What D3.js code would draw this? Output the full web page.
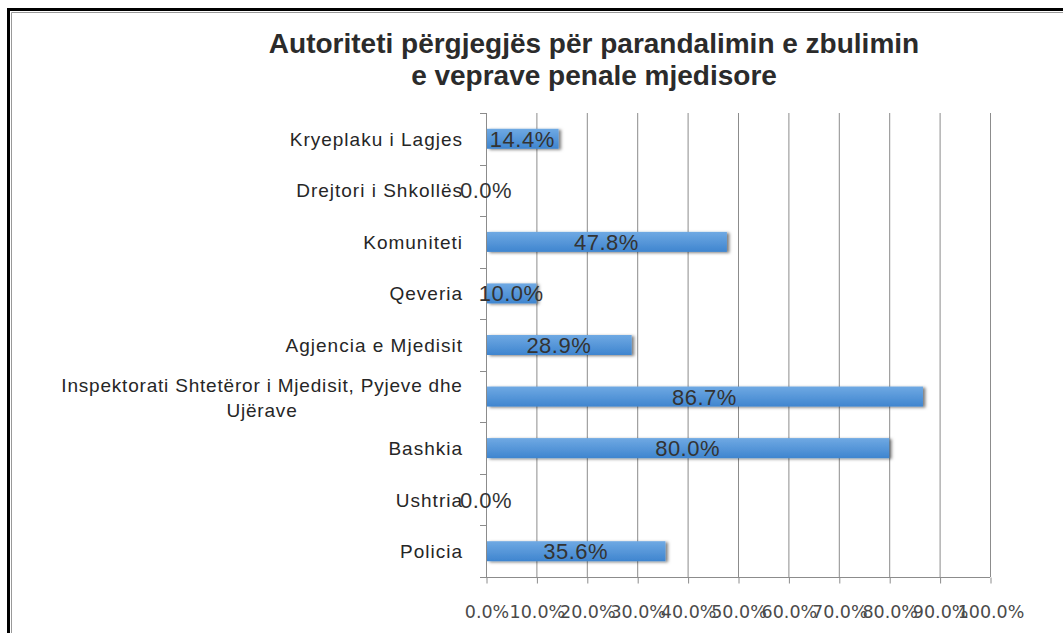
<!DOCTYPE html>
<html>
<head>
<meta charset="utf-8">
<script src="https://cdn.jsdelivr.net/npm/d3@7"></script>
<style>
  body { margin: 0; background: #fff; }
  svg { display: block; }
</style>
</head>
<body>
<script>
// data
const categories = ["Kryeplaku i Lagjes", "Drejtori i Shkollës", "Komuniteti", "Qeveria", "Agjencia e Mjedisit",
  "Inspektorati Shtetëror i Mjedisit, Pyjeve dhe Ujërave", "Bashkia", "Ushtria", "Policia"];
const values = [14.4, 0.0, 47.8, 10.0, 28.9, 86.7, 80.0, 0.0, 35.6];
const tickValues = [0, 10, 20, 30, 40, 50, 60, 70, 80, 90, 100];
const titleLines = ["Autoriteti përgjegjës për parandalimin e zbulimin", "e veprave penale mjedisore"];

const W = 1063, H = 633;
const plotL = 486, plotR = 990, plotT = 113, plotB = 577;

const svg = d3.select("body").append("svg").attr("width", W).attr("height", H);

const defs = svg.append("defs");
const grad = defs.append("linearGradient").attr("id", "barGrad").attr("x1", 0).attr("y1", 0).attr("x2", 0).attr("y2", 1);
grad.append("stop").attr("offset", "0%").attr("stop-color", "#6fa9e3");
grad.append("stop").attr("offset", "100%").attr("stop-color", "#3f85cf");
const shadow = defs.append("filter").attr("id", "shadow").attr("x", "-10%").attr("y", "-50%").attr("width", "130%").attr("height", "200%");
shadow.append("feDropShadow").attr("dx", 2.5).attr("dy", 1).attr("stdDeviation", 1.8).attr("flood-color", "#000").attr("flood-opacity", 0.5);

// frame
svg.append("path").attr("d", `M8.5,${H} V9.5 H${W}`).attr("fill", "none").attr("stroke", "#000").attr("stroke-width", 3);
svg.append("path").attr("d", `M11.5,${H} V12.5 H${W}`).attr("fill", "none").attr("stroke", "#999").attr("stroke-width", 1);

// title
svg.append("text")
  .attr("x", 594).attr("y", 53)
  .attr("text-anchor", "middle")
  .style("font-family", "'Liberation Sans', Arial, sans-serif")
  .style("font-weight", "bold").style("font-size", "28px").style("fill", "#2b2b2b")
  .selectAll("tspan").data(titleLines).join("tspan")
  .attr("x", 594).attr("dy", (d, i) => i ? 32 : 0).text(d => d);

const x = d3.scaleLinear().domain([0, 100]).range([plotL, plotR]);
const y = d3.scaleBand().domain(categories).range([plotT, plotB]);

// grid lines
svg.append("g").selectAll("line").data(tickValues.slice(1)).join("line")
  .attr("x1", d => x(d) + 0.5).attr("x2", d => x(d) + 0.5)
  .attr("y1", plotT).attr("y2", plotB)
  .attr("stroke", "#8c8c8c").attr("stroke-width", 1);

// x axis
const xAxis = d3.axisBottom(x).tickValues(tickValues).tickFormat(d => d.toFixed(1) + "%").tickSize(6).tickPadding(22);
const gx = svg.append("g").attr("transform", `translate(0.5,${plotB + 0.5})`).call(xAxis);
gx.select(".domain").attr("stroke", "#8c8c8c").attr("d", `M${plotL - 0.5},0H${plotR - 0.5}`);
gx.selectAll(".tick line").attr("stroke", "#8c8c8c");
gx.selectAll(".tick text").style("font-family", "'DejaVu Sans', Verdana, sans-serif")
  .style("font-size", "17.5px").style("fill", "#4a4a4a");

// y axis ticks at band edges
const edges = categories.map(c => y(c)).concat([plotB]);
svg.append("g").selectAll("line").data(edges).join("line")
  .attr("x1", plotL - 6).attr("x2", plotL).attr("y1", d => Math.round(d) + 0.5).attr("y2", d => Math.round(d) + 0.5)
  .attr("stroke", "#8c8c8c");
svg.append("line").attr("x1", plotL + 0.5).attr("x2", plotL + 0.5).attr("y1", plotT).attr("y2", plotB)
  .attr("stroke", "#8c8c8c");

// category labels
const labelFont = "'Liberation Sans', Arial, sans-serif";
categories.forEach(c => {
  const cy = y(c) + y.bandwidth() / 2;
  if (c.length > 30) {
    const lines = ["Inspektorati Shtetëror i Mjedisit, Pyjeve dhe", "Ujërave"];
    svg.append("text").attr("text-anchor", "middle")
      .style("font-family", labelFont).style("font-size", "19px").style("fill", "#262626")
      .style("letter-spacing", "0.8px")
      .selectAll("tspan").data(lines).join("tspan")
      .attr("x", 262).attr("y", (d, i) => cy - 12 + i * 25 + 7).text(d => d);
  } else {
    svg.append("text").attr("x", 463).attr("y", cy + 7).attr("text-anchor", "end")
      .style("font-family", labelFont).style("font-size", "19px").style("fill", "#262626")
      .style("letter-spacing", "1px").text(c);
  }
});

// bars
const barH = 20;
svg.append("g").selectAll("rect").data(values).join("rect")
  .attr("x", plotL + 1)
  .attr("y", (d, i) => y(categories[i]) + y.bandwidth() / 2 - barH / 2)
  .attr("width", d => Math.max(0, x(d) - plotL - 1))
  .attr("height", barH)
  .attr("fill", "url(#barGrad)")
  .attr("filter", "url(#shadow)")
  .style("display", d => d > 0 ? null : "none");

// value labels
svg.append("g").selectAll("text").data(values).join("text")
  .attr("x", d => (plotL + x(d)) / 2)
  .attr("y", (d, i) => y(categories[i]) + y.bandwidth() / 2 + 8)
  .attr("text-anchor", "middle")
  .style("font-family", "'Liberation Sans', Arial, sans-serif")
  .style("font-size", "22px").style("letter-spacing", "0.5px").style("fill", "#333")
  .text(d => d.toFixed(1) + "%");
</script>
</body>
</html>
